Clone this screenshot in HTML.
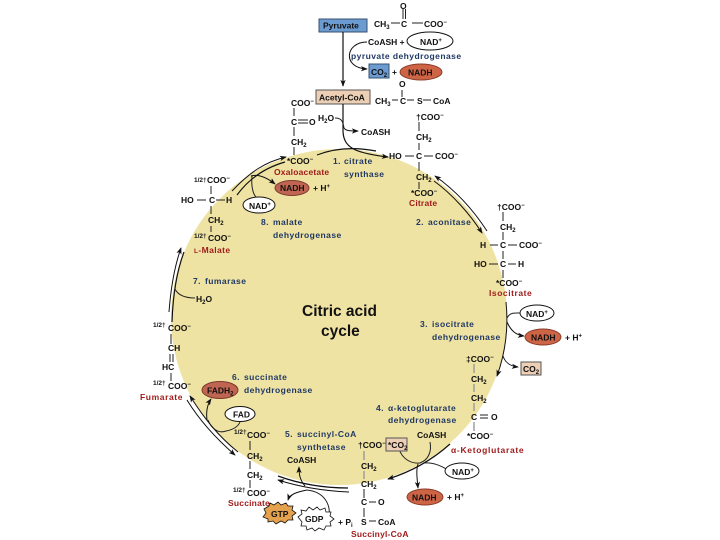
<!DOCTYPE html>
<html><head><meta charset="utf-8"><style>
html,body{margin:0;padding:0;background:#fff}
svg{display:block;filter:blur(.35px)}
text{font-family:"Liberation Sans",sans-serif;font-size:8.5px;fill:#111;font-weight:bold}
.e{fill:#1f3864;font-size:8.5px;letter-spacing:.45px}
.r{fill:#a01c1c;font-size:8.5px;letter-spacing:.2px}
.s{font-size:6px}
.h{font-size:6.5px}
.l{stroke:#222;stroke-width:1;fill:none}
.a{stroke:#111;stroke-width:1;fill:none;marker-end:url(#m)}
.d{stroke:#111;stroke-width:1.2;fill:none}
.g{stroke:#999;stroke-width:1.4;fill:none}
</style></head><body>
<svg width="720" height="540" viewBox="0 0 720 540" xmlns="http://www.w3.org/2000/svg">
<defs><marker id="m" viewBox="0 0 8 6" refX="7" refY="3" markerWidth="7" markerHeight="6" orient="auto" markerUnits="userSpaceOnUse"><path d="M0 0L8 3L0 6L2 3Z" fill="#111"/></marker></defs>
<rect width="720" height="540" fill="#fff"/>
<circle cx="339" cy="317" r="168" fill="#efe3a3"/>

<!-- Pyruvate -->
<rect x="319" y="19" width="48" height="13" fill="#6c9bd2" stroke="#36506f"/>
<text x="323" y="28.500" fill="#10243e">Pyruvate</text>
<text x="374" y="27">CH<tspan class="s" dy="2">3</tspan></text>
<path class="l" d="M391 23H400M403 9V19M405.500 9V19M412 23H423"/>
<text x="400" y="9">O</text><text x="401" y="27">C</text><text x="424" y="27">COO<tspan class="s" dy="-3">−</tspan></text>
<path class="d" d="M343 32V86" marker-end="url(#m)"/>
<path class="a" d="M367 42C345 42 342 68 367 69"/>
<text x="368" y="45">CoASH +</text>
<ellipse cx="430" cy="41" rx="23" ry="9" fill="#fff" stroke="#111"/><text x="420" y="45">NAD<tspan class="s" dy="-3">+</tspan></text>
<text x="351" y="59" class="e">pyruvate dehydrogenase</text>
<rect x="369" y="64" width="20" height="14" fill="#6c9bd2" stroke="#36506f"/><text x="371" y="75">CO<tspan class="s" dy="2">2</tspan></text>
<text x="392" y="75">+</text>
<ellipse cx="421" cy="72" rx="21" ry="8" fill="#cd6445" stroke="#8a3c2a"/><text x="408" y="75.500">NADH</text>

<!-- Acetyl-CoA -->
<rect x="316" y="90" width="54" height="14" fill="#eccfb5" stroke="#555"/><text x="319" y="100.500">Acetyl-CoA</text>
<text x="375" y="104">CH<tspan class="s" dy="2">3</tspan></text><text x="400" y="104">C</text><text x="417" y="104">S</text><text x="433" y="104">CoA</text>
<text x="399" y="87">O</text><path class="l" d="M392 100H398M407 100H414M423 100H431M402 90V97"/>
<path class="d" d="M343 104V130C343 148 355 153 388 157" marker-end="url(#m)"/>
<path class="l" d="M335 118C342 118 343 122 344 128"/><path class="a" d="M344 128C346 131 350 131 358 131"/>
<text x="318" y="121">H<tspan class="s" dy="2">2</tspan><tspan dy="-2">O</tspan></text>
<text x="361" y="135">CoASH</text>

<!-- Oxaloacetate -->
<text x="291" y="106">COO<tspan class="s" dy="-3">−</tspan></text><text x="291" y="125">C</text><text x="309" y="125">O</text><text x="291" y="145">CH<tspan class="s" dy="2">2</tspan></text><text x="287" y="164">*COO<tspan class="s" dy="-3">−</tspan></text>
<path class="l" d="M294 108V116M294 127V136M294 147V155M298 120H308M298 123H308"/>
<text x="274" y="175" class="r">Oxaloacetate</text>
<text x="333" y="164" class="e">1.</text><text x="344" y="164" class="e">citrate</text><text x="344" y="177" class="e">synthase</text>
<path class="d" d="M317 155C335 148 355 147 376 151"/>

<!-- Citrate -->
<text x="416" y="120">†COO<tspan class="s" dy="-3">−</tspan></text><text x="416" y="140">CH<tspan class="s" dy="2">2</tspan></text>
<text x="389" y="159">HO</text><text x="416" y="159">C</text><text x="435" y="159">COO<tspan class="s" dy="-3">−</tspan></text>
<path class="l" d="M419 122V131M419 143V150M405 156H414M424 156H433M419 162V171M419 182V189"/>
<text x="416" y="180">CH<tspan class="s" dy="2">2</tspan></text><text x="411" y="196">*COO<tspan class="s" dy="-3">−</tspan></text>
<text x="409" y="206" class="r">Citrate</text>
<text x="416" y="225" class="e">2.</text><text x="428" y="225" class="e">aconitase</text>
<path class="a" d="M487 231C472 208 455 190 435 176"/>
<path class="a" d="M434 181C452 194 470 214 482 233"/>

<!-- Isocitrate -->
<text x="497" y="210">†COO<tspan class="s" dy="-3">−</tspan></text><text x="500" y="230">CH<tspan class="s" dy="2">2</tspan></text>
<text x="480" y="248">H</text><text x="500" y="248">C</text><text x="519" y="248">COO<tspan class="s" dy="-3">−</tspan></text>
<text x="474" y="267">HO</text><text x="500" y="267">C</text><text x="518" y="267">H</text><text x="496" y="286">*COO<tspan class="s" dy="-3">−</tspan></text>
<path class="l" d="M503 212V221M503 232V240M503 251V259M503 270V278M490 245H498M508 245H517M489 264H498M508 264H516"/>
<text x="489" y="296" class="r" style="letter-spacing:.55px">Isocitrate</text>

<!-- right arc -->
<path class="a" d="M506 302A168 168 0 0 1 497 376"/>
<path class="l" d="M507 318C510 312 515 313 521 313"/>
<ellipse cx="537" cy="313" rx="17" ry="8" fill="#fff" stroke="#111"/><text x="526" y="317">NAD<tspan class="s" dy="-3">+</tspan></text>
<path class="a" d="M507 322C511 331 516 335 524 336"/>
<ellipse cx="543" cy="337" rx="18" ry="8" fill="#cd6445" stroke="#8a3c2a"/><text x="531" y="340.500">NADH</text>
<text x="565" y="340.500">+ H<tspan class="s" dy="-3">+</tspan></text>
<text x="420" y="327" class="e">3.</text><text x="432" y="327" class="e">isocitrate</text><text x="432" y="340" class="e">dehydrogenase</text>
<path class="a" d="M503 356C505 362 509 366 518 367"/>
<rect x="521" y="362" width="20" height="13" fill="#eccfb5" stroke="#555"/><text x="523" y="372">CO<tspan class="s" dy="2">2</tspan></text>

<!-- aKG -->
<text x="466" y="362">‡COO<tspan class="s" dy="-3">−</tspan></text><text x="471" y="382">CH<tspan class="s" dy="2">2</tspan></text><text x="471" y="401">CH<tspan class="s" dy="2">2</tspan></text><text x="471" y="420">C</text><text x="491" y="420">O</text><text x="467" y="439">*COO<tspan class="s" dy="-3">−</tspan></text>
<path class="g" d="M474 364V373M474 384V392M474 403V411M474 422V431"/><path class="l" d="M480 415H488M480 418H488"/>
<text x="451" y="453" class="r" style="letter-spacing:.7px">α-Ketoglutarate</text>
<text x="376" y="411" class="e">4.</text><text x="388" y="411" class="e">α-ketoglutarate</text><text x="388" y="423" class="e">dehydrogenase</text>
<text x="417" y="438">CoASH</text>
<path class="d" d="M450 444A168 168 0 0 1 388 479" marker-end="url(#m)"/>
<path class="l" d="M430 442C432 452 428 460 420 463C410 464 402 458 399 449"/>
<path class="a" d="M418 464C416 470 417 478 418 488"/>
<path class="l" d="M424 463C432 462 440 465 448 470"/>
<ellipse cx="462" cy="471" rx="17" ry="8" fill="#fff" stroke="#111"/><text x="452" y="475">NAD<tspan class="s" dy="-3">+</tspan></text>
<ellipse cx="425" cy="497" rx="18" ry="8" fill="#cd6445" stroke="#8a3c2a"/><text x="412" y="500.500">NADH</text>
<text x="447" y="500">+ H<tspan class="s" dy="-3">+</tspan></text>

<!-- Succinyl -->
<text x="358" y="448">†COO<tspan class="s" dy="-3">−</tspan></text>
<rect x="386" y="438" width="21" height="13" fill="#eccfb5" stroke="#555"/><text x="388" y="448">*CO<tspan class="s" dy="2">2</tspan></text>
<text x="361" y="469">CH<tspan class="s" dy="2">2</tspan></text><text x="361" y="487">CH<tspan class="s" dy="2">2</tspan></text><text x="361" y="505">C</text><text x="378" y="505">O</text><text x="361" y="525">S</text><text x="378" y="525">CoA</text>
<path class="g" d="M364 451V460M364 471V479"/><path class="l" d="M364 489V498M364 508V517M369 502H376M369 521H376"/>
<text x="351" y="537" class="r">Succinyl-CoA</text>

<!-- Citric acid cycle -->
<text x="302" y="316" style="font-size:15.500px">Citric acid</text>
<text x="321" y="336" style="font-size:15.500px">cycle</text>

<!-- Malate -->
<text x="194" y="182" class="h">1/2†</text><text x="207" y="183">COO<tspan class="s" dy="-3">−</tspan></text>
<text x="181" y="203">HO</text><text x="209" y="203">C</text><text x="226" y="203">H</text>
<path class="l" d="M197 200H206M216 200H225M211 186V194M211 206V214M211 226V232"/>
<text x="208" y="223">CH<tspan class="s" dy="2">2</tspan></text>
<text x="194" y="238" class="h">1/2†</text><text x="208" y="241">COO<tspan class="s" dy="-3">−</tspan></text>
<text x="194" y="253" class="r" style="letter-spacing:.4px"><tspan style="font-size:6.500px">L</tspan>-Malate</text>
<path class="a" d="M232 191C250 172 265 162 286 157"/>
<path class="d" d="M237 195C248 180 264 168 285 162"/>
<path class="l" d="M252 176C251 186 253 194 256 197"/>
<path class="a" d="M251 176C258 174 266 177 275 184"/>
<ellipse cx="259" cy="205" rx="16" ry="8" fill="#fff" stroke="#111"/><text x="249" y="209">NAD<tspan class="s" dy="-3">+</tspan></text>
<ellipse cx="292" cy="188" rx="17" ry="7.500" fill="#bf6552" stroke="#7d3b2e"/><text x="280" y="191">NADH</text>
<text x="313" y="191">+ H<tspan class="s" dy="-3">+</tspan></text>
<text x="261" y="225" class="e">8.</text><text x="273" y="225" class="e">malate</text><text x="273" y="238" class="e">dehydrogenase</text>

<!-- Fumarase -->
<path class="a" d="M169 312C171 285 175 265 181 248"/>
<path class="d" d="M172 322C173 292 178 268 184 252"/>
<path class="l" d="M175 289C178 295 185 298 195 298"/>
<text x="193" y="284" class="e">7.</text><text x="205" y="284" class="e">fumarase</text>
<text x="196" y="302">H<tspan class="s" dy="2">2</tspan><tspan dy="-2">O</tspan></text>

<!-- Fumarate -->
<text x="153" y="327" class="h">1/2†</text><text x="168" y="331">COO<tspan class="s" dy="-3">−</tspan></text>
<text x="168" y="351">CH</text><text x="162" y="370">HC</text>
<path class="l" d="M171 334V344M170 354V362M173 354V362M171 373V381"/>
<text x="153" y="385" class="h">1/2†</text><text x="168" y="389">COO<tspan class="s" dy="-3">−</tspan></text>
<text x="140" y="400" class="r" style="letter-spacing:.6px">Fumarate</text>
<text x="232" y="380" class="e">6.</text><text x="244" y="380" class="e">succinate</text><text x="244" y="393" class="e">dehydrogenase</text>
<ellipse cx="220" cy="390" rx="18" ry="8.500" fill="#bf6552" stroke="#7d3b2e"/><text x="207" y="393.500">FADH<tspan class="s" dy="2">2</tspan></text>
<ellipse cx="240" cy="414" rx="15" ry="7.500" fill="#fff" stroke="#111"/><text x="233" y="417.500">FAD</text>
<path class="a" d="M207 420C206 412 207 405 211 399"/>
<path class="l" d="M208 420C211 428 218 434 226 431C232 430 238 427 240 422"/>
<path class="a" d="M187 400C198 418 212 435 235 455"/>
<path class="a" d="M238 452C218 436 204 418 190 396"/>

<!-- Succinate -->
<text x="234" y="434" class="h">1/2†</text><text x="247" y="438">COO<tspan class="s" dy="-3">−</tspan></text>
<text x="247" y="459">CH<tspan class="s" dy="2">2</tspan></text><text x="247" y="478">CH<tspan class="s" dy="2">2</tspan></text>
<path class="l" d="M250 441V450M250 461V469M250 480V488"/>
<text x="233" y="492" class="h">1/2†</text><text x="247" y="496">COO<tspan class="s" dy="-3">−</tspan></text>
<text x="228" y="506" class="r">Succinate</text>
<text x="285" y="437" class="e">5.</text><text x="297" y="437" class="e">succinyl-CoA</text><text x="297" y="450" class="e">synthetase</text>
<text x="287" y="463">CoASH</text>
<path class="a" d="M305 486C300 480 299 475 299 467"/>
<path class="d" d="M278 476C300 484 325 488 348 488"/>
<path class="a" d="M349 492C325 491 300 487 278 480"/>
<path class="l" d="M307 490C325 492 331 505 329 518"/>
<path class="a" d="M307 490C297 492 290 494 288 500"/>
<polygon points="264,509 269,506 270,503 274,505 278,502 281,505 286,503 288,506 293,506 292,510 296,513 292,516 293,520 288,520 285,523 281,521 276,524 273,521 268,522 268,519 263,517 266,513" fill="#e4a24f" stroke="#111" stroke-width=".8"/>
<text x="271" y="517">GTP</text>
<polygon points="298,517 302,514 301,510 306,511 309,507 313,510 317,507 320,510 325,508 326,512 331,512 330,516 334,519 330,522 331,526 326,526 324,530 319,528 315,531 312,528 307,530 306,526 301,526 302,522" fill="#fff" stroke="#111" stroke-width=".8"/>
<text x="305" y="522">GDP</text>
<text x="338" y="525">+ P<tspan class="s" dy="2">i</tspan></text>
</svg>
</body></html>
